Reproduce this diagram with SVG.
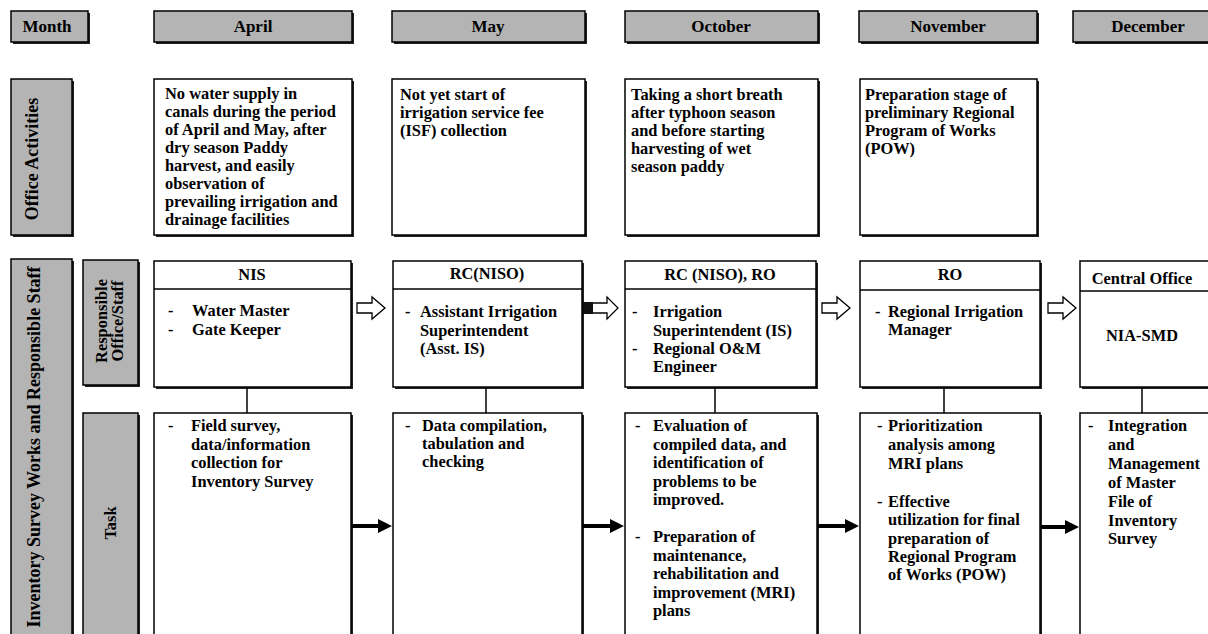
<svg xmlns="http://www.w3.org/2000/svg" width="1208" height="634" viewBox="0 0 1208 634">
<style>
  .t { font-family: "Liberation Serif", "Times New Roman", serif; font-weight: bold; font-size: 16.4px; fill: #000; }
  .hd { font-size: 17px; }
  .lbl { font-size: 18px; }
  .c { text-anchor: middle; }
  .g { fill: #b4b4b4; stroke: #000; stroke-width: 1.5; }
  .w { fill: #fff; stroke: #000; stroke-width: 1.5; }
  .sh { fill: #222; }
  .ln { stroke: #000; stroke-width: 1.5; fill: none; }
  .bold { stroke: #000; stroke-width: 4; fill: none; marker-end: url(#ah); }
  .hol { fill: #fff; stroke: #000; stroke-width: 1.3; }
</style>
<defs>
  <marker id="ah" markerWidth="14" markerHeight="14" refX="2" refY="7" orient="auto" markerUnits="userSpaceOnUse">
    <path d="M0,0 L14,7 L0,14 Z" fill="#000"/>
  </marker>
</defs>
<rect width="1208" height="634" fill="#fff"/>

<!-- Header row -->
<g id="h-month"><rect class="sh" x="13" y="13" width="77" height="31"/><rect class="g" x="11" y="11" width="77" height="31"/><text class="t hd c" x="47" y="32">Month</text></g>
<g id="h-april"><rect class="sh" x="156" y="13" width="198" height="31"/><rect class="g" x="154" y="11" width="198" height="31"/><text class="t hd c" x="253" y="32">April</text></g>
<g id="h-may"><rect class="sh" x="394" y="13" width="193" height="31"/><rect class="g" x="392" y="11" width="193" height="31"/><text class="t hd c" x="488" y="32">May</text></g>
<g id="h-oct"><rect class="sh" x="627" y="13" width="193" height="31"/><rect class="g" x="625" y="11" width="193" height="31"/><text class="t hd c" x="721" y="32">October</text></g>
<g id="h-nov"><rect class="sh" x="861" y="13" width="178" height="31"/><rect class="g" x="859" y="11" width="178" height="31"/><text class="t hd c" x="948" y="32">November</text></g>
<g id="h-dec"><rect class="sh" x="1075" y="13" width="140" height="31"/><rect class="g" x="1073" y="11" width="140" height="31"/><text class="t hd c" x="1148" y="32">December</text></g>

<!-- Office activities row -->
<g id="l-office"><rect class="sh" x="13" y="81" width="61" height="156"/><rect class="g" x="11" y="79" width="61" height="156"/><text class="t lbl c" transform="translate(38,159) rotate(-90)">Office Activities</text></g>
<g id="o-april"><rect class="sh" x="156" y="81" width="198" height="156"/><rect class="w" x="154" y="79" width="198" height="156"/>
  <text class="t" x="165" y="99">No water supply in</text>
  <text class="t" x="165" y="117">canals during the period</text>
  <text class="t" x="165" y="135">of April and May, after</text>
  <text class="t" x="165" y="153">dry season Paddy</text>
  <text class="t" x="165" y="171">harvest, and easily</text>
  <text class="t" x="165" y="189">observation of</text>
  <text class="t" x="165" y="207">prevailing irrigation and</text>
  <text class="t" x="165" y="225">drainage facilities</text>
</g>
<g id="o-may"><rect class="sh" x="394" y="81" width="193" height="156"/><rect class="w" x="392" y="79" width="193" height="156"/>
  <text class="t" x="400" y="100">Not yet start of</text>
  <text class="t" x="400" y="118">irrigation service fee</text>
  <text class="t" x="400" y="136">(ISF) collection</text>
</g>
<g id="o-oct"><rect class="sh" x="627" y="81" width="193" height="156"/><rect class="w" x="625" y="79" width="193" height="156"/>
  <text class="t" x="631" y="100">Taking a short breath</text>
  <text class="t" x="631" y="118">after typhoon season</text>
  <text class="t" x="631" y="136">and before starting</text>
  <text class="t" x="631" y="154">harvesting of wet</text>
  <text class="t" x="631" y="172">season paddy</text>
</g>
<g id="o-nov"><rect class="sh" x="862" y="81" width="177" height="156"/><rect class="w" x="860" y="79" width="177" height="156"/>
  <text class="t" x="865" y="100">Preparation stage of</text>
  <text class="t" x="865" y="118">preliminary Regional</text>
  <text class="t" x="865" y="136">Program of Works</text>
  <text class="t" x="865" y="154">(POW)</text>
</g>

<!-- Lower section labels -->
<g id="l-inventory"><rect class="sh" x="13" y="261" width="61" height="380"/><rect class="g" x="11" y="259" width="61" height="380"/><text class="t lbl c" transform="translate(40,447) rotate(-90)">Inventory Survey Works and Responsible Staff</text></g>
<g id="l-resp"><rect class="sh" x="85" y="262" width="55" height="125"/><rect class="g" x="83" y="260" width="55" height="125"/>
  <text class="t c" transform="translate(107,321) rotate(-90)">Responsible</text>
  <text class="t c" transform="translate(123,321) rotate(-90)">Office/Staff</text>
</g>
<g id="l-task"><rect class="sh" x="85" y="415" width="55" height="226"/><rect class="g" x="83" y="413" width="55" height="226"/><text class="t c" transform="translate(116,523) rotate(-90)">Task</text></g>

<!-- Staff row -->
<g id="s-nis"><rect class="sh" x="156" y="263" width="197" height="126"/><rect class="w" x="154" y="261" width="197" height="126"/><line class="ln" x1="154" y1="289" x2="351" y2="289"/>
  <text class="t c" x="252" y="280">NIS</text>
  <text class="t" x="168" y="316">-</text><text class="t" x="192" y="316">Water Master</text>
  <text class="t" x="168" y="335">-</text><text class="t" x="192" y="335">Gate Keeper</text>
</g>
<g id="s-may"><rect class="sh" x="395" y="263" width="189" height="126"/><rect class="w" x="393" y="261" width="189" height="126"/><line class="ln" x1="393" y1="289" x2="582" y2="289"/>
  <text class="t c" x="487" y="279">RC(NISO)</text>
  <text class="t" x="405" y="317">-</text><text class="t" x="420" y="317">Assistant Irrigation</text>
  <text class="t" x="420" y="336">Superintendent</text>
  <text class="t" x="420" y="354">(Asst. IS)</text>
</g>
<g id="s-oct"><rect class="sh" x="627" y="263" width="191" height="126"/><rect class="w" x="625" y="261" width="191" height="126"/><line class="ln" x1="625" y1="289" x2="816" y2="289"/>
  <text class="t c" x="720" y="280">RC (NISO), RO</text>
  <text class="t" x="632" y="317">-</text><text class="t" x="653" y="317">Irrigation</text>
  <text class="t" x="653" y="336">Superintendent (IS)</text>
  <text class="t" x="632" y="354">-</text><text class="t" x="653" y="354">Regional O&amp;M</text>
  <text class="t" x="653" y="372">Engineer</text>
</g>
<g id="s-nov"><rect class="sh" x="862" y="263" width="180" height="126"/><rect class="w" x="860" y="261" width="180" height="126"/><line class="ln" x1="860" y1="290" x2="1040" y2="290"/>
  <text class="t c" x="950" y="280">RO</text>
  <text class="t" x="875" y="317">-</text><text class="t" x="888" y="317">Regional Irrigation</text>
  <text class="t" x="888" y="335">Manager</text>
</g>
<g id="s-dec"><rect class="sh" x="1082" y="263" width="140" height="126"/><rect class="w" x="1080" y="261" width="140" height="126"/><line class="ln" x1="1080" y1="291" x2="1220" y2="291"/>
  <text class="t c" x="1142" y="284">Central Office</text>
  <text class="t c" x="1142" y="341">NIA-SMD</text>
</g>

<!-- Task row -->
<g id="t-april"><rect class="sh" x="156" y="415" width="197" height="226"/><rect class="w" x="154" y="413" width="197" height="226"/>
  <text class="t" x="168" y="431">-</text><text class="t" x="191" y="431">Field survey,</text>
  <text class="t" x="191" y="450">data/information</text>
  <text class="t" x="191" y="468">collection for</text>
  <text class="t" x="191" y="487">Inventory Survey</text>
</g>
<g id="t-may"><rect class="sh" x="395" y="415" width="189" height="226"/><rect class="w" x="393" y="413" width="189" height="226"/>
  <text class="t" x="405" y="431">-</text><text class="t" x="422" y="431">Data compilation,</text>
  <text class="t" x="422" y="449">tabulation and</text>
  <text class="t" x="422" y="467">checking</text>
</g>
<g id="t-oct"><rect class="sh" x="627" y="415" width="192" height="226"/><rect class="w" x="625" y="413" width="192" height="226"/>
  <text class="t" x="635" y="431">-</text><text class="t" x="653" y="431">Evaluation of</text>
  <text class="t" x="653" y="450">compiled data, and</text>
  <text class="t" x="653" y="468">identification of</text>
  <text class="t" x="653" y="487">problems to be</text>
  <text class="t" x="653" y="505">improved.</text>
  <text class="t" x="635" y="542">-</text><text class="t" x="653" y="542">Preparation of</text>
  <text class="t" x="653" y="561">maintenance,</text>
  <text class="t" x="653" y="579">rehabilitation and</text>
  <text class="t" x="653" y="598">improvement (MRI)</text>
  <text class="t" x="653" y="616">plans</text>
</g>
<g id="t-nov"><rect class="sh" x="862" y="415" width="180" height="226"/><rect class="w" x="860" y="413" width="180" height="226"/>
  <text class="t" x="877" y="431">-</text><text class="t" x="888" y="431">Prioritization</text>
  <text class="t" x="888" y="450">analysis among</text>
  <text class="t" x="888" y="469">MRI plans</text>
  <text class="t" x="877" y="507">-</text><text class="t" x="888" y="507">Effective</text>
  <text class="t" x="888" y="525">utilization for final</text>
  <text class="t" x="888" y="544">preparation of</text>
  <text class="t" x="888" y="562">Regional Program</text>
  <text class="t" x="888" y="580">of Works (POW)</text>
</g>
<g id="t-dec"><rect class="sh" x="1082" y="415" width="140" height="226"/><rect class="w" x="1080" y="413" width="140" height="226"/>
  <text class="t" x="1088" y="431">-</text><text class="t" x="1108" y="431">Integration</text>
  <text class="t" x="1108" y="450">and</text>
  <text class="t" x="1108" y="469">Management</text>
  <text class="t" x="1108" y="488">of Master</text>
  <text class="t" x="1108" y="507">File of</text>
  <text class="t" x="1108" y="526">Inventory</text>
  <text class="t" x="1108" y="544">Survey</text>
</g>

<!-- Connectors -->
<g id="connectors">
  <line class="ln" x1="247" y1="387" x2="247" y2="413"/>
  <line class="ln" x1="486" y1="387" x2="486" y2="413"/>
  <line class="ln" x1="715" y1="387" x2="715" y2="413"/>
  <line class="ln" x1="944" y1="387" x2="944" y2="413"/>
  <line class="ln" x1="1142" y1="387" x2="1142" y2="413"/>

  <path class="hol" d="M357,303 L372,303 L372,297 L385,308 L372,319 L372,313 L357,313 Z"/>
  <path class="hol" d="M584,303 L607,303 L607,297 L618,308 L607,319 L607,313 L584,313 Z"/>
  <rect x="584" y="302" width="9" height="12" fill="#111"/>
  <path class="hol" d="M822,303 L837,303 L837,297 L850,308 L837,319 L837,313 L822,313 Z"/>
  <path class="hol" d="M1048,303 L1063,303 L1063,297 L1076,308 L1063,319 L1063,313 L1048,313 Z"/>

  <line class="bold" x1="352" y1="526" x2="380" y2="526"/>
  <line class="bold" x1="583" y1="526" x2="612" y2="526"/>
  <line class="bold" x1="818" y1="526" x2="847" y2="526"/>
  <line class="bold" x1="1041" y1="527" x2="1067" y2="527"/>
</g>
</svg>
